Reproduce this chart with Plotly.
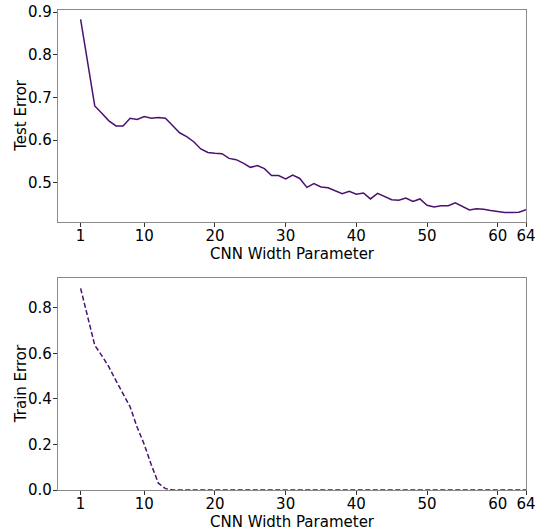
import plotly.graph_objects as go
from plotly.subplots import make_subplots

widths = list(range(1, 65))

test_error = [
    0.883, 0.780, 0.680, 0.663, 0.645, 0.633, 0.633, 0.651, 0.648, 0.655,
    0.651, 0.653, 0.651, 0.634, 0.617, 0.608, 0.596, 0.579, 0.571, 0.569,
    0.568, 0.557, 0.554, 0.546, 0.536, 0.540, 0.533, 0.517, 0.517, 0.509,
    0.518, 0.510, 0.489, 0.498, 0.490, 0.488, 0.481, 0.474, 0.480, 0.473,
    0.476, 0.462, 0.475, 0.468, 0.460, 0.459, 0.464, 0.456, 0.462, 0.447,
    0.443, 0.446, 0.446, 0.453, 0.444, 0.436, 0.439, 0.438, 0.435, 0.432,
    0.430, 0.430, 0.431, 0.437,
]

train_error = [
    0.885, 0.760, 0.635, 0.590, 0.540, 0.480, 0.420, 0.365, 0.275, 0.200,
    0.110, 0.030, 0.006, 0.000,
] + [0.0] * 50

x_ticks = [1, 10, 20, 30, 40, 50, 60, 64]
top_y_ticks = [0.5, 0.6, 0.7, 0.8, 0.9]
bottom_y_ticks = [0.0, 0.2, 0.4, 0.6, 0.8]

LINE = "#4a1270"
FONT = "DejaVu Sans"
TOP_DOMAIN = [0.559, 1.0]
BOTTOM_DOMAIN = [0.0, 0.441]

fig = make_subplots(rows=2, cols=1, vertical_spacing=0.118)

fig.add_trace(go.Scatter(x=widths, y=test_error, mode="lines",
                         line=dict(color=LINE, width=1.5), showlegend=False),
              row=1, col=1)
fig.add_trace(go.Scatter(x=widths, y=train_error, mode="lines",
                         line=dict(color=LINE, width=1.5, dash="5px,2.5px"),
                         showlegend=False),
              row=2, col=1)

axis_common = dict(showgrid=False, zeroline=False, showline=True, mirror=True,
                   linecolor="#8a8a8a", linewidth=1.2, ticks="outside",
                   ticklen=4, tickcolor="#333333", tickwidth=1, automargin=False,
                   ticklabeloverflow="allow",
                   tickfont=dict(family=FONT, size=15, color="black"))

fig.update_xaxes(**axis_common, range=[-2.2, 64], tickvals=x_ticks,
                 ticklabelstandoff=-4,
                 title=dict(text="CNN Width Parameter",
                            font=dict(family=FONT, size=15, color="black"),
                            standoff=3))
fig.update_yaxes(**axis_common, ticklabelstandoff=-2)
fig.update_yaxes(range=[0.4087, 0.9047], tickvals=top_y_ticks,
                 ticktext=[f"{v:.1f}" for v in top_y_ticks],
                 domain=TOP_DOMAIN, row=1, col=1)
fig.update_yaxes(range=[0, 0.929], tickvals=bottom_y_ticks,
                 ticktext=[f"{v:.1f}" for v in bottom_y_ticks],
                 domain=BOTTOM_DOMAIN, row=2, col=1)

plot_w = 535 - 58 - 9
for text, dom in [("Test Error", TOP_DOMAIN), ("Train Error", BOTTOM_DOMAIN)]:
    fig.add_annotation(text=text, xref="paper", yref="paper",
                       x=(21 - 58) / plot_w, y=(dom[0] + dom[1]) / 2,
                       xanchor="center", yanchor="middle", textangle=-90,
                       showarrow=False,
                       font=dict(family=FONT, size=15, color="black"))

fig.update_layout(width=535, height=531,
                  margin=dict(l=58, r=9, t=10, b=41),
                  paper_bgcolor="white", plot_bgcolor="white",
                  font=dict(family=FONT, size=15, color="black"))

fig.write_html("out.html")
